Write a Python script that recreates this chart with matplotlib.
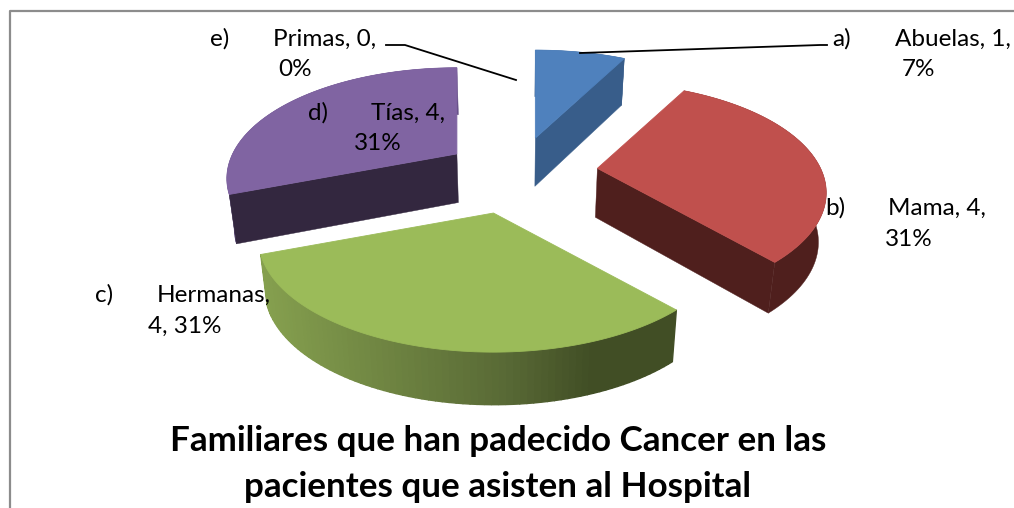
import numpy as np
import matplotlib
matplotlib.use("Agg")
import matplotlib.pyplot as plt
from matplotlib.colors import to_rgb

categories = ['Abuelas', 'Mama', 'Hermanas', 'Tías', 'Primas']
letters = ['a)', 'b)', 'c)', 'd)', 'e)']
values = [1, 4, 4, 4, 0]
first_lines = ['Abuelas, 1,', 'Mama, 4,', 'Hermanas,', 'Tías, 4,', 'Primas, 0,']
second_lines = ['7%', '31%', '4, 31%', '31%', '0%']
title_lines = ['Familiares que han padecido Cancer en las', 'pacientes que asisten al Hospital']

top_colors = ['#4f81bd', '#c0504d', '#9bbb59', '#8064a2']
wall_colors = ['#385d8a', '#4f1f1d', '#414e25', '#33273f']
arc_colors = ['#385d8a', '#4f1f1d', None, '#5f4a80']

# per slice tweaks, pixels and radius factor
shifts = [(1, 0), (0, 0), (-1, -1), (6, 2)]
radii = [1.0, 0.97, 0.995, 0.975]

# label positions in pixels: letter x, name x, second line x, first line y
letter_pos = [(832, 39), (825, 208), (95, 295), (308, 113), (210, 39)]
name_x = [895, 888, 157, 371, 273]
second_x = [902, 885, 148, 354, 278]
line_gap = 31

center = np.array([516.0, 173.0])
explode = 0.36
rx, ry, persp = 230.0, 108.0, 0.2286


def project(r, ang):
    ux, uy = r * np.sin(ang), r * np.cos(ang)
    d = 1 + persp * uy
    return np.column_stack([rx * ux / d, -ry * uy / d])


def drop(p):
    # base of the wall: slightly narrower than the top, lower toward the viewer
    q = p.copy()
    q[:, 0] = center[0] + (p[:, 0] - center[0]) * 0.975
    q[:, 1] = p[:, 1] + 49 + 0.02 * (p[:, 1] - center[1])
    return q


def green_shade(x):
    xs = [250, 507, 590, 700]
    rgb = [np.interp(x, xs, c) for c in zip(to_rgb('#88a350'), to_rgb('#586935'),
                                            to_rgb('#414e25'), to_rgb('#414e25'))]
    return tuple(rgb)


fig = plt.figure(figsize=(10.14, 5.08), dpi=100)
ax = fig.add_axes([0, 0, 1, 1])
ax.set_xlim(0, 1014)
ax.set_ylim(508, 0)
ax.axis('off')

total = sum(values)
edges = np.cumsum([0] + values) / total * 2 * np.pi

# border of the chart area, runs off the right and bottom of the image
ax.plot([1014, 9.5, 9.5], [10.5, 10.5, 508], color='#8c8c8c', lw=1.6, zorder=1)

# back slices first
z = 2
for i in [0, 3, 1, 2]:
    a0, a1 = edges[i], edges[i + 1]
    mid = (a0 + a1) / 2
    apex = center + project(explode, mid)[0] + np.array(shifts[i])
    ang = np.linspace(a0, a1, 80)
    arc = apex + project(radii[i], ang)
    base_arc = drop(arc)
    apex_b = drop(apex[None, :])[0]

    # outer wall
    if arc_colors[i]:
        wall = np.vstack([arc, base_arc[::-1]])
        ax.fill(wall[:, 0], wall[:, 1], color=arc_colors[i], lw=0.3, zorder=z)
    else:
        for k in range(len(arc) - 1):
            quad = np.array([arc[k], arc[k + 1], base_arc[k + 1], base_arc[k]])
            ax.fill(quad[:, 0], quad[:, 1], color=green_shade(quad[:, 0].mean()), lw=1.0, zorder=z)

    # cut faces, only the ones turned toward the viewer
    if np.sin(a0) < -1e-6:
        quad = np.array([apex, arc[0], base_arc[0], apex_b])
        ax.fill(quad[:, 0], quad[:, 1], color=wall_colors[i], lw=0.3, zorder=z)
    if np.sin(a1) > 1e-6:
        quad = np.array([apex, arc[-1], base_arc[-1], apex_b])
        ax.fill(quad[:, 0], quad[:, 1], color=wall_colors[i], lw=0.3, zorder=z)

    top = np.vstack([apex, arc])
    ax.fill(top[:, 0], top[:, 1], color=top_colors[i], lw=0.6, zorder=z)
    z += 1

ax.plot([580, 820, 827], [53, 45, 45], color='black', lw=1.3, zorder=6)
ax.plot([386, 405, 516], [45, 45, 80], color='black', lw=1.3, zorder=6)

font = 'Lato'
size = 17.5
for i in range(len(categories)):
    lx, ly = letter_pos[i]
    ax.text(lx, ly, letters[i], family=font, fontsize=size, color='black', va='center', zorder=7)
    ax.text(name_x[i], ly, first_lines[i], family=font, fontsize=size, color='black', va='center', zorder=7)
    ax.text(second_x[i], ly + line_gap, second_lines[i], family=font, fontsize=size, color='black', va='center', zorder=7)

for line, y in zip(title_lines, [441, 487]):
    ax.text(498, y, line, family=font, fontweight='bold', fontsize=25.2, color='black',
            ha='center', va='center', zorder=7)

fig.savefig('out.png', dpi=100)
